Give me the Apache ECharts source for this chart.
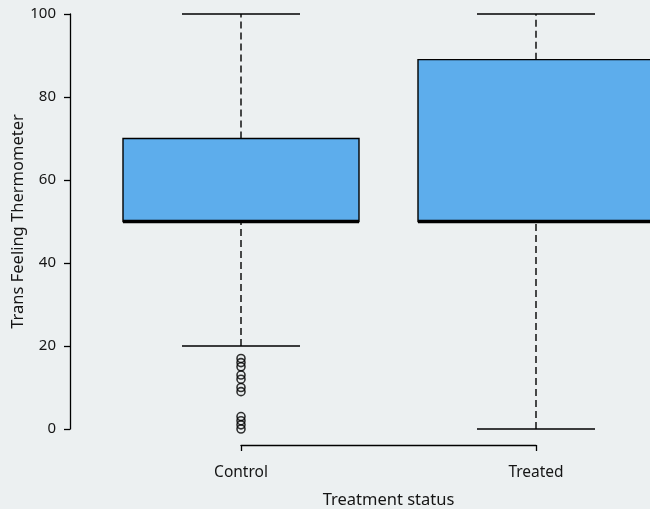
<!DOCTYPE html>
<html>
<head>
<meta charset="utf-8">
<script src="https://cdn.jsdelivr.net/npm/echarts@6/dist/echarts.min.js"></script>
<style>
html,body{margin:0;padding:0;background:#ECF0F1;}
#main{width:650px;height:509px;}
</style>
</head>
<body>
<div id="main"></div>
<script>
//数据
var categories = ['Control', 'Treated'];
var whiskerLow = [20, 0];
var q1 = [50, 50];
var medians = [50, 50];
var q3 = [70, 89];
var whiskerHigh = [100, 100];
var controlOutliers = [17, 16, 15, 13, 12, 10, 9, 3, 2, 1, 0];

var boxColor = '#5DADEC';
var inkColor = '#000';
var textColor = '#151515';
var fontName = 'Noto Sans';

var boxData = [];
for (var i = 0; i < categories.length; i++) {
	boxData.push([i, whiskerLow[i], q1[i], medians[i], q3[i], whiskerHigh[i]]);
}
var outlierData = [];
for (var j = 0; j < controlOutliers.length; j++) {
	outlierData.push([0, controlOutliers[j]]);
}

//画箱线
function renderBox(params, api) {
	var idx = api.value(0);
	var w = api.size([1, 0])[0] * 0.8;
	var pLow = api.coord([idx, api.value(1)]);
	var pQ1 = api.coord([idx, api.value(2)]);
	var pMed = api.coord([idx, api.value(3)]);
	var pQ3 = api.coord([idx, api.value(4)]);
	var pHigh = api.coord([idx, api.value(5)]);
	var cx = pQ1[0];
	var dash = { stroke: inkColor, lineWidth: 1.4, lineDash: [7, 4] };
	var solid = { stroke: inkColor, lineWidth: 1.4 };
	return {
		type: 'group',
		children: [
			{ type: 'line', shape: { x1: cx, y1: pLow[1], x2: cx, y2: pQ1[1] }, style: dash },
			{ type: 'line', shape: { x1: cx, y1: pQ3[1], x2: cx, y2: pHigh[1] }, style: dash },
			{ type: 'line', shape: { x1: cx - w / 4, y1: pLow[1], x2: cx + w / 4, y2: pLow[1] }, style: solid },
			{ type: 'line', shape: { x1: cx - w / 4, y1: pHigh[1], x2: cx + w / 4, y2: pHigh[1] }, style: solid },
			{ type: 'rect', shape: { x: cx - w / 2, y: pQ3[1], width: w, height: pQ1[1] - pQ3[1] },
				style: { fill: boxColor, stroke: inkColor, lineWidth: 1.4 } },
			{ type: 'line', shape: { x1: cx - w / 2, y1: pMed[1], x2: cx + w / 2, y2: pMed[1] },
				style: { stroke: '#000', lineWidth: 3.5 } }
		]
	};
}

var chart = echarts.init(document.getElementById('main'));
chart.setOption({
	backgroundColor: '#ECF0F1',
	animation: false,
	grid: { left: 241, width: 295, top: 14, height: 415, outerBoundsMode: 'none' },
	xAxis: {
		type: 'category',
		data: categories,
		boundaryGap: false,
		offset: 16,
		name: 'Treatment status',
		nameLocation: 'middle',
		nameGap: 47,
		nameTextStyle: { color: textColor, fontSize: 16.5, fontFamily: fontName },
		axisLine: { onZero: false, lineStyle: { color: inkColor, width: 1.3 } },
		axisTick: { alignWithLabel: true, length: 6, lineStyle: { color: inkColor, width: 1.3 } },
		axisLabel: { color: textColor, fontSize: 15.5, fontFamily: fontName, margin: 20 },
		splitLine: { show: false }
	},
	yAxis: {
		type: 'value',
		min: 0,
		max: 100,
		interval: 20,
		offset: 171,
		name: 'Trans Feeling Thermometer',
		nameLocation: 'middle',
		nameGap: 42,
		nameTextStyle: { color: textColor, fontSize: 16.5, fontFamily: fontName },
		axisLine: { show: true, lineStyle: { color: inkColor, width: 1.3 } },
		axisTick: { show: true, length: 6, lineStyle: { color: inkColor, width: 1.3 } },
		axisLabel: { color: textColor, fontSize: 15, fontFamily: fontName, margin: 14 },
		splitLine: { show: false }
	},
	series: [
		{
			type: 'custom',
			renderItem: renderBox,
			data: boxData,
			clip: false,
			encode: { x: 0, y: [1, 2, 3, 4, 5] }
		},
		{
			type: 'scatter',
			data: outlierData,
			symbol: 'circle',
			symbolSize: 8,
			clip: false,
			itemStyle: { color: 'rgba(0,0,0,0)', borderColor: '#000', borderWidth: 1.6 }
		}
	]
});
</script>
</body>
</html>
